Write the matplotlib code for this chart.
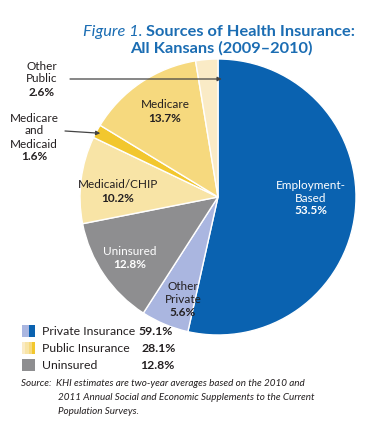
import numpy as np
import matplotlib
matplotlib.use("Agg")
import matplotlib.pyplot as plt
from matplotlib.patches import Rectangle

plt.rcParams['font.family'] = ['Lato', 'DejaVu Sans']

# slice data, clockwise from the top
categories = ["Employment-\nBased", "Other\nPrivate", "Uninsured", "Medicaid/CHIP",
              "Medicare\nand\nMedicaid", "Medicare", "Other\nPublic"]
shares = [53.5, 5.6, 12.8, 10.2, 1.6, 13.7, 2.6]
colors = ["#0a62b0", "#aab6e0", "#8e8e90", "#f8e4a6", "#f2c72e", "#f6d97e", "#faebc6"]

groups = ["Private Insurance", "Public Insurance", "Uninsured"]
group_shares = [59.1, 28.1, 12.8]
group_colors = [[colors[1], colors[0]], [colors[6], colors[3], colors[5], colors[4]], [colors[2]]]

W, H = 378, 423
BLUE = "#1b6db3"
TXT = "#231f20"


def px(x, y):
    return x / W, 1 - y / H


fig = plt.figure(figsize=(W / 100, H / 100), dpi=100)
fig.patch.set_facecolor("white")

# pie axes: centre ~(218,197) px, radius ~138 px
cx, cy, r = 218, 197, 138
ax = fig.add_axes([(cx - r) / W, 1 - (cy + r) / H, 2 * r / W, 2 * r / H])
wedges, _ = ax.pie(shares, colors=colors, startangle=90, counterclock=False,
                   wedgeprops=dict(edgecolor="white", linewidth=1.0))
ax.set_xlim(-1, 1)
ax.set_ylim(-1, 1)
ax.set_aspect("equal")
ax.axis("off")

# title
TFS = 11.8
t1 = fig.text(*px(83, 32), "Figure 1. ", color=BLUE, fontsize=TFS, style="italic",
              va="center", ha="left")
fig.canvas.draw()
bb = t1.get_window_extent()
fig.text(bb.x1 / W, 1 - 32 / H, "Sources of Health Insurance:", color=BLUE, fontsize=TFS,
         fontweight="bold", va="center", ha="left")
fig.text(*px(221, 48), "All Kansans (2009\u20132010)", color=BLUE, fontsize=TFS,
         fontweight="bold", va="center", ha="center")

FS = 8.5


def label(x, y, name, val, color=TXT, lh=13):
    lines = name.split("\n")
    for i, ln in enumerate(lines):
        fig.text(*px(x, y + i * lh), ln, ha="center", va="center", fontsize=FS, color=color)
    fig.text(*px(x, y + len(lines) * lh), f"{val}%", ha="center", va="center",
             fontsize=FS, color=color, fontweight="bold")


label(311, 185, categories[0], shares[0], color="white")
label(183, 286, categories[1], shares[1])
label(130, 251, categories[2], shares[2], color="white", lh=14)
label(118, 184, categories[3], shares[3], lh=14)
label(34, 118, categories[4], shares[4])
label(165, 104, categories[5], shares[5], lh=14)
label(42, 66, categories[6], shares[6])

# arrows to the thin slices
def wedge_point(w, rad):
    th = np.deg2rad((w.theta1 + w.theta2) / 2)
    return rad * np.cos(th), rad * np.sin(th)

ax.annotate("", xy=wedge_point(wedges[4], 0.97), xycoords="data",
            xytext=px(65, 131), textcoords="figure fraction",
            arrowprops=dict(arrowstyle="-|>", color="#444444", lw=0.9, mutation_scale=6,
                            shrinkA=0, shrinkB=0))
op = wedges[6]
ax.annotate("", xy=(np.cos(np.deg2rad(op.theta1 + 1.5)) * 0.86 + 0.05, 118 / r),
            xycoords="data", xytext=px(70, 79), textcoords="figure fraction",
            arrowprops=dict(arrowstyle="-|>", color="#444444", lw=0.9, mutation_scale=6,
                            shrinkA=0, shrinkB=0))

# legend
LFS = 8.8
rows_y = [331, 348, 365]
val_x = [None, 142, 140]
for gi, (g, s, cs) in enumerate(zip(groups, group_shares, group_colors)):
    y = rows_y[gi]
    x0, wsq, hsq = 22, 13, 12
    n = len(cs)
    for k, c in enumerate(cs):
        fig.add_artist(Rectangle(((x0 + k * wsq / n) / W, 1 - (y + hsq / 2) / H),
                                 wsq / n / W, hsq / H, facecolor=c, edgecolor="none",
                                 transform=fig.transFigure))
    t = fig.text(*px(42, y), g, ha="left", va="center", fontsize=LFS, color=TXT)
    if val_x[gi] is None:
        fig.canvas.draw()
        vx = t.get_window_extent().x1 + 3
    else:
        vx = val_x[gi]
    fig.text(vx / W, 1 - y / H, f"{s}%", ha="left", va="center",
             fontsize=LFS, color=TXT, fontweight="bold")

# source note
src = ["Source:  KHI estimates are two-year averages based on the 2010 and",
       "2011 Annual Social and Economic Supplements to the Current",
       "Population Surveys."]
SFS = 7.1
fig.text(*px(21, 383), src[0], ha="left", va="center", fontsize=SFS, style="italic", color=TXT)
fig.text(*px(58, 397), src[1], ha="left", va="center", fontsize=SFS, style="italic", color=TXT)
fig.text(*px(58, 411), src[2], ha="left", va="center", fontsize=SFS, style="italic", color=TXT)

fig.savefig("out.png", dpi=100, facecolor="white")
